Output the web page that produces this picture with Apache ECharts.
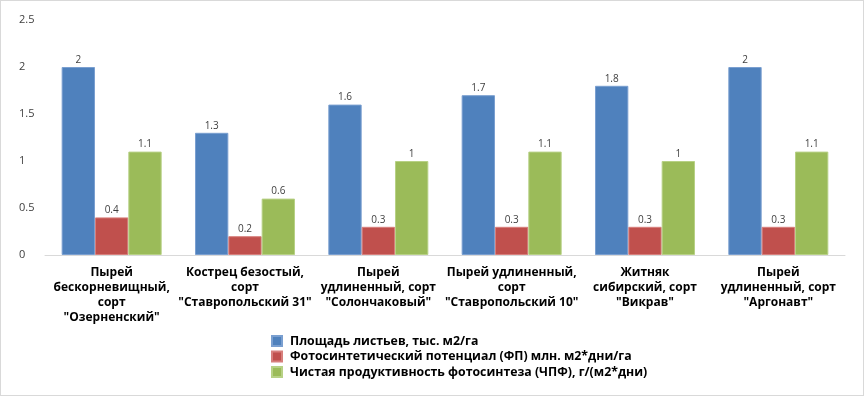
<!DOCTYPE html>
<html>
<head>
<meta charset="utf-8">
<script src="https://cdn.jsdelivr.net/npm/echarts@6/dist/echarts.min.js"></script>
<style>
html,body{margin:0;padding:0;background:#fff;}
#c{width:864px;height:396px;box-sizing:border-box;border:1px solid #d9d9d9;}
</style>
</head>
<body>
<div id="c"></div>
<script>
const categories = [
  'Пырей\nбескорневищный,\nсорт\n"Озерненский"',
  'Кострец безостый,\nсорт\n"Ставропольский 31"',
  'Пырей\nудлиненный, сорт\n"Солончаковый"',
  'Пырей удлиненный,\nсорт\n"Ставропольский 10"',
  'Житняк\nсибирский, сорт\n"Викрав"',
  'Пырей\nудлиненный, сорт\n"Аргонавт"'
];
const seriesNames = [
  'Площадь листьев, тыс. м2/га',
  'Фотосинтетический потенциал (ФП) млн. м2*дни/га',
  'Чистая продуктивность фотосинтеза (ЧПФ), г/(м2*дни)'
];
const leafArea = [2, 1.3, 1.6, 1.7, 1.8, 2];
const photoPotential = [0.4, 0.2, 0.3, 0.3, 0.3, 0.3];
const netProductivity = [1.1, 0.6, 1, 1.1, 1, 1.1];
const colors = ['#4F81BD', '#C0504D', '#9BBB59'];
const borders = ['#7a9fd0', '#d77f7c', '#b7d185'];

const font = '"Open Sans", "Noto Sans", sans-serif';
const chart = echarts.init(document.getElementById('c'));
const mk = (name, data, i) => ({
  name, type: 'bar', data,
  barGap: '0%', barCategoryGap: '25%',
  itemStyle: {color: colors[i], borderColor: borders[i], borderWidth: 1},
  label: {show: true, position: 'top', distance: 2, color: '#404040', fontSize: 10, fontFamily: font},
  emphasis: {disabled: true}
});
chart.setOption({
  animation: false,
  textStyle: {fontFamily: font},
  grid: {left: 44, right: 18, top: 19, bottom: 140},
  legend: {
    orient: 'vertical', left: 265, top: 328,
    itemWidth: 10, itemHeight: 10, itemGap: 1.5,
    icon: 'rect',
    textStyle: {fontWeight: 'bold', fontSize: 12.3, lineHeight: 14, color: '#000', fontFamily: font, padding: [0, 0, 0, 3]},
    data: seriesNames
  },
  xAxis: {
    type: 'category', data: categories,
    axisLine: {lineStyle: {color: '#d9d9d9'}},
    axisTick: {show: false},
    axisLabel: {interval: 0, fontWeight: 'bold', fontSize: 12, color: '#000', lineHeight: 15, margin: 10, fontFamily: font}
  },
  yAxis: {
    type: 'value', min: 0, max: 2.5, interval: 0.5,
    splitLine: {show: false},
    axisLine: {show: false},
    axisTick: {show: false},
    axisLabel: {align: 'left', margin: 26, color: '#404040', fontSize: 11, fontFamily: font}
  },
  series: [
    mk(seriesNames[0], leafArea, 0),
    mk(seriesNames[1], photoPotential, 1),
    mk(seriesNames[2], netProductivity, 2)
  ]
});
</script>
</body>
</html>
